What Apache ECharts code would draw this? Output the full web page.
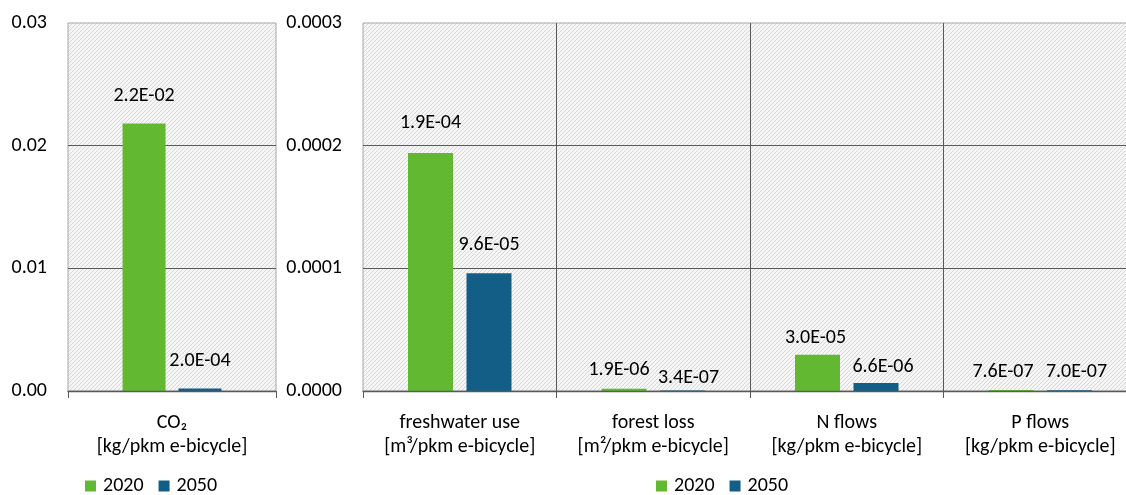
<!DOCTYPE html>
<html>
<head>
<meta charset="utf-8">
<script src="https://cdn.jsdelivr.net/npm/echarts@6/dist/echarts.min.js"></script>
<style>
html,body{margin:0;padding:0;background:#fff;overflow:hidden;}
#chart{width:1145px;height:495px;}
</style>
</head>
<body>
<div id="chart"></div>
<script>
// ---- data ----
const seriesNames = ['2020', '2050'];
const leftCategories = ['CO\u2082\n[kg/pkm e-bicycle]'];
const rightCategories = [
  'freshwater use\n[m\u00b3/pkm e-bicycle]',
  'forest loss\n[m\u00b2/pkm e-bicycle]',
  'N flows\n[kg/pkm e-bicycle]',
  'P flows\n[kg/pkm e-bicycle]'
];
const left2020 = [0.0218];
const left2050 = [0.0002];
const right2020 = [0.000194, 0.0000019, 0.0000296, 0.00000076];
const right2050 = [0.000096, 0.00000034, 0.0000066, 0.00000070];
const leftTicks = { min: 0, max: 0.03, interval: 0.01, decimals: 2 };
const rightTicks = { min: 0, max: 0.0003, interval: 0.0001, decimals: 4 };

// ---- styling ----
const FONT = 'Carlito, Calibri, Lato, sans-serif';
const FS = 20;
const GREEN = '#63b832';
const BLUE = '#135e86';
const GRIDLINE = '#595959';
const BORDER = '#a6a6a6';
const AXIS = '#595959';
// label placement per bar (style only): [dx, distance]
const labelPosLeft = { '2020': [[0, 18]], '2050': [[0, 18]] };
const labelPosRight = {
  '2020': [[0, 20], [-5, 9], [-2, 7], [-8, 8]],
  '2050': [[0, 18], [6, 3], [7, 6], [7, 8]]
};

function sci(v) {
  const parts = v.toExponential(1).split('e');
  const sign = parts[1][0] === '-' ? '-' : '+';
  const digits = parts[1].replace(/^[+-]/, '').padStart(2, '0');
  return parts[0] + 'E' + sign + digits;
}

function hatch() {
  const c = document.createElement('canvas');
  c.width = 4; c.height = 4;
  const ctx = c.getContext('2d');
  const img = ctx.createImageData(4, 4);
  for (let y = 0; y < 4; y++) {
    for (let x = 0; x < 4; x++) {
      const i = (y * 4 + x) * 4;
      const on = (x + y) % 4 === 3;
      const v = on ? 0xd6 : 0xf6;
      img.data[i] = v; img.data[i + 1] = v; img.data[i + 2] = v; img.data[i + 3] = 255;
    }
  }
  ctx.putImageData(img, 0, 0);
  return { image: c, repeat: 'repeat' };
}
const pattern = hatch();

function makeData(values, pos) {
  return values.map((v, i) => ({ value: v, label: { distance: pos[i][1], offset: [pos[i][0], 0] } }));
}

function bar(name, values, pos, axisIdx, color, width) {
  return {
    name: name,
    type: 'bar',
    xAxisIndex: axisIdx,
    yAxisIndex: axisIdx,
    barWidth: width,
    barGap: '30%',
    itemStyle: { color: color },
    data: makeData(values, pos),
    label: {
      show: true,
      position: 'top',
      color: '#000',
      fontFamily: FONT,
      fontSize: FS,
      formatter: p => sci(p.value)
    },
    emphasis: { disabled: true }
  };
}

function yAxis(idx, t) {
  return {
    type: 'value',
    gridIndex: idx,
    min: t.min, max: t.max, interval: t.interval,
    axisLine: { show: false },
    axisTick: { show: false },
    axisLabel: {
      color: '#000', fontFamily: FONT, fontSize: FS, margin: 21,
      formatter: v => v.toFixed(t.decimals)
    },
    splitLine: { show: true, showMinLine: false, showMaxLine: false, lineStyle: { color: GRIDLINE, width: 1 } }
  };
}

function xAxis(idx, cats, split) {
  return {
    type: 'category',
    gridIndex: idx,
    data: cats,
    z: 3,
    axisLine: { show: true, lineStyle: { color: AXIS, width: 1.3 } },
    axisTick: { show: true, length: 7, alignWithLabel: false, lineStyle: { color: AXIS } },
    axisLabel: { interval: 0, color: '#000', fontFamily: FONT, fontSize: FS, lineHeight: 24, margin: 20 },
    splitLine: { show: split, showMinLine: false, showMaxLine: false, lineStyle: { color: GRIDLINE, width: 1 } }
  };
}

function legend(left) {
  return {
    left: left, top: 476, padding: 0,
    icon: 'rect', itemWidth: 11, itemHeight: 11, itemGap: 15,
    data: seriesNames,
    textStyle: { color: '#000', fontFamily: FONT, fontSize: FS, padding: [0, 0, 0, 2] }
  };
}

const chart = echarts.init(document.getElementById('chart'), null, { renderer: 'canvas' });
chart.setOption({
  animation: false,
  backgroundColor: '#fff',
  textStyle: { fontFamily: FONT },
  grid: [
    { left: 68, top: 23, width: 208, height: 368, show: true, backgroundColor: pattern, borderColor: BORDER, borderWidth: 1 },
    { left: 363, top: 23, width: 774, height: 368, show: true, backgroundColor: pattern, borderColor: BORDER, borderWidth: 1 }
  ],
  legend: [legend(85), legend(656)],
  xAxis: [xAxis(0, leftCategories, false), xAxis(1, rightCategories, true)],
  yAxis: [yAxis(0, leftTicks), yAxis(1, rightTicks)],
  series: [
    bar('2020', left2020, labelPosLeft['2020'], 0, GREEN, 43),
    bar('2050', left2050, labelPosLeft['2050'], 0, BLUE, 43),
    bar('2020', right2020, labelPosRight['2020'], 1, GREEN, 45),
    bar('2050', right2050, labelPosRight['2050'], 1, BLUE, 45)
  ]
});
</script>
</body>
</html>
